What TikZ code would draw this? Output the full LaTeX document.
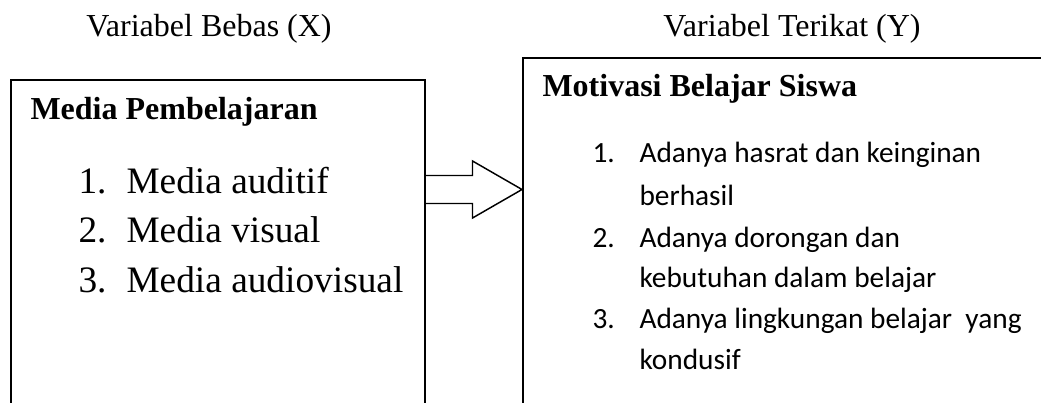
\documentclass[tikz,border=0pt]{standalone}
\usepackage{fontspec}
\setmainfont{Liberation Serif}
\newfontfamily\calibri{Carlito}
\usetikzlibrary{calc}

\begin{document}
\begin{tikzpicture}[x=0.375pt,y=-0.375pt,
              label/.style={anchor=base,inner sep=0pt,font=\fontsize{12}{14}\selectfont},
              judul/.style={anchor=base west,inner sep=0pt,font=\fontsize{12}{14}\selectfont\bfseries},
              butir/.style={anchor=base west,inner sep=0pt,font=\fontsize{14}{16}\selectfont},
              poin/.style={anchor=base west,inner sep=0pt,font=\fontsize{11}{13}\calibri},
              kotak/.style={draw,line width=0.75pt,anchor=north west,inner sep=0pt,minimum height=150pt},
              panah/.style={draw,line width=0.55pt,line join=miter}]
              \useasboundingbox (0,0) rectangle (1041,403);
              \clip (0,0) rectangle (1041,403);
              \begin{scope}
                \node (bebas) at (209,37) [label]{Variabel Bebas (X)};
                \node (terikat) at (792,37) [label]{Variabel Terikat (Y)};

                \node (media) at (9.5,79) [kotak,minimum width=155.4pt]{};
                \node (motivasi) at (522,57) [kotak,minimum width=202pt]{};

                \node (mjudul) at (30,120) [judul]{Media Pembelajaran};
                \node (m1) at (78,193) [butir]{1.};
                \node (m2) at (78,242) [butir]{2.};
                \node (m3) at (78,292) [butir]{3.};
                \node (m1t) at (126,193) [butir]{Media auditif};
                \node (m2t) at (126,242) [butir]{Media visual};
                \node (m3t) at (126,292) [butir]{Media audiovisual};

                \node (tjudul) at (542,96) [judul]{Motivasi Belajar Siswa};
                \node (t1) at (592,163) [poin]{1.};
                \node (t2) at (592,247) [poin]{2.};
                \node (t3) at (592,328) [poin]{3.};
                \node (t1a) at (639,163) [poin]{Adanya hasrat dan keinginan};
                \node (t1b) at (639,205.5) [poin]{berhasil};
                \node (t2a) at (639,247) [poin]{Adanya dorongan dan};
                \node (t2b) at (639,287.5) [poin]{kebutuhan dalam belajar};
                \node (t3a) at (639,328) [poin]{Adanya lingkungan belajar\ \ yang};
                \node (t3b) at (639,369) [poin]{kondusif};

                \coordinate (tengah) at (0,189.5);
                \draw[panah] ($(media.east |- tengah)+(0,-14)$) -- ($(motivasi.west |- tengah)+(-49.5,-14)$)
                  -- ($(motivasi.west |- tengah)+(-49.5,-28.5)$) -- (motivasi.west |- tengah)
                  -- ($(motivasi.west |- tengah)+(-49.5,28.5)$) -- ($(motivasi.west |- tengah)+(-49.5,14)$)
                  -- ($(media.east |- tengah)+(0,14)$);

              \end{scope}
              \end{tikzpicture}
\end{document}
